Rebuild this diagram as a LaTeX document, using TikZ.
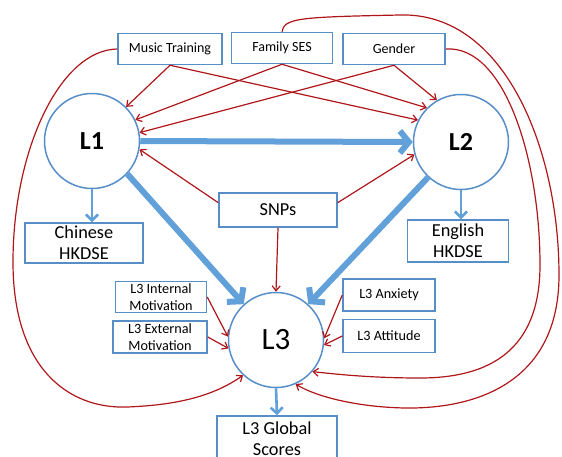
\documentclass[tikz,border=0pt]{standalone}
\usepackage{fontspec}
\setmainfont{Carlito}
\usetikzlibrary{arrows.meta}

\definecolor{boxblue}{RGB}{88,142,200}
\definecolor{pathblue}{RGB}{98,160,218}
\definecolor{pathred}{RGB}{175,22,26}

\tikzset{
	box/.style={draw=boxblue, line width=1.5pt, fill=white, align=center, inner sep=1pt},
	small/.style={font=\fontsize{14}{15}\selectfont},
	mid/.style={font=\fontsize{14.2}{16.5}\selectfont},
	big/.style={font=\fontsize{18.3}{21}\selectfont},
	latent/.style={circle, draw=boxblue, line width=1.5pt, fill=white, minimum size=95pt, inner sep=0pt},
	redpath/.style={draw=pathred, line width=1.2pt, -{Straight Barb[length=5pt,width=8pt]}},
	bluepath/.style={draw=pathblue, line width=2.6pt, -{Straight Barb[length=6pt,width=12pt]}},
	mainpath/.style={draw=pathblue, line width=6pt, -{Straight Barb[length=9pt,width=22pt]}}
}

\begin{document}
\begin{tikzpicture}[x=1pt, y=-1pt]
	\useasboundingbox (0,0) rectangle (562,456);

	% latent variables
	\node [latent, font=\fontsize{26}{26}\selectfont\bfseries] (L1) at (92,141) {L1};
	\node [latent, font=\fontsize{26}{26}\selectfont\bfseries] (L2) at (461,142) {L2};
	\node [latent, font=\fontsize{31}{31}\selectfont] (L3) at (276,340) {L3};

	% predictors
	\node [box, small, minimum width=104pt, minimum height=31pt] (music) at (170,49) {Music Training};
	\node [box, small, minimum width=101pt, minimum height=31pt] (ses) at (282,48) {Family SES};
	\node [box, small, minimum width=102pt, minimum height=31pt] (gender) at (394,49) {Gender};
	\node [box, big, minimum width=118pt, minimum height=34pt] (snps) at (278,210) {SNPs};
	\node [box, mid, minimum width=91pt, minimum height=31pt] (intmot) at (161,297) {L3 Internal\\Motivation};
	\node [box, mid, minimum width=94pt, minimum height=32pt] (extmot) at (160,337) {L3 External\\Motivation};
	\node [box, mid, minimum width=92pt, minimum height=32pt] (anx) at (389,295) {L3 Anxiety};
	\node [box, mid, minimum width=92pt, minimum height=33pt] (att) at (389,336) {L3 Attitude};

	% outcomes
	\node [box, big, minimum width=118pt, minimum height=40pt] (chinese) at (84,243) {Chinese\\HKDSE};
	\node [box, big, minimum width=101pt, minimum height=42pt] (english) at (458,241) {English\\HKDSE};
	\node [box, big, minimum width=120pt, minimum height=46pt] (global) at (277,439) {L3 Global\\Scores};

	% main paths
	\draw [mainpath] (L1.east) -- (L2.west);
	\draw [mainpath] (L1.-43) -- (L3.132);
	\draw [mainpath] (L2.-133) -- (L3.48);
	\draw [bluepath] (L1.south) -- (L1.south |- chinese.north);
	\draw [bluepath] (L2.south) -- (L2.south |- english.north);
	\draw [bluepath] (L3.south) -- (global.north);

	% background variables
	\draw [redpath] (music.south) -- (L1.45);
	\draw [redpath] (music.south) -- (L2.153);
	\draw [redpath] (ses.south) -- (L1.26);
	\draw [redpath] (ses.south) -- (L2.135);
	\draw [redpath] (gender.south) -- (L1.10);
	\draw [redpath] (gender.south) -- (L2.120);
	\draw [redpath] (snps.173) -- (L1.-10);
	\draw [redpath] (snps.7) -- (L2.195);
	\draw [redpath] (snps.south) -- (L3.north);
	\draw [redpath] (intmot.east) -- (L3.176);
	\draw [redpath] (extmot.east) -- (L3.190);
	\draw [redpath] (anx.west) -- (L3.2);
	\draw [redpath] (att.west) -- (L3.-6);

	% long curves to L3
	\draw [redpath] (music.west) .. controls (60,50) and (13,150) .. (13,262)
		.. controls (13,370) and (70,409) .. (127,407)
		.. controls (180,405) and (215,395) .. (L3.-133);
	\draw [redpath] (ses.north) .. controls (284,18) and (300,17) .. (400,15)
		.. controls (505,12) and (559,150) .. (559,275)
		.. controls (559,380) and (480,409) .. (405,408)
		.. controls (355,407) and (315,396) .. (L3.-66);
	\draw [redpath] (gender.east) .. controls (505,45) and (540,160) .. (540,265)
		.. controls (540,350) and (490,378) .. (420,378)
		.. controls (370,378) and (335,374) .. (L3.-41);
\end{tikzpicture}
\end{document}
